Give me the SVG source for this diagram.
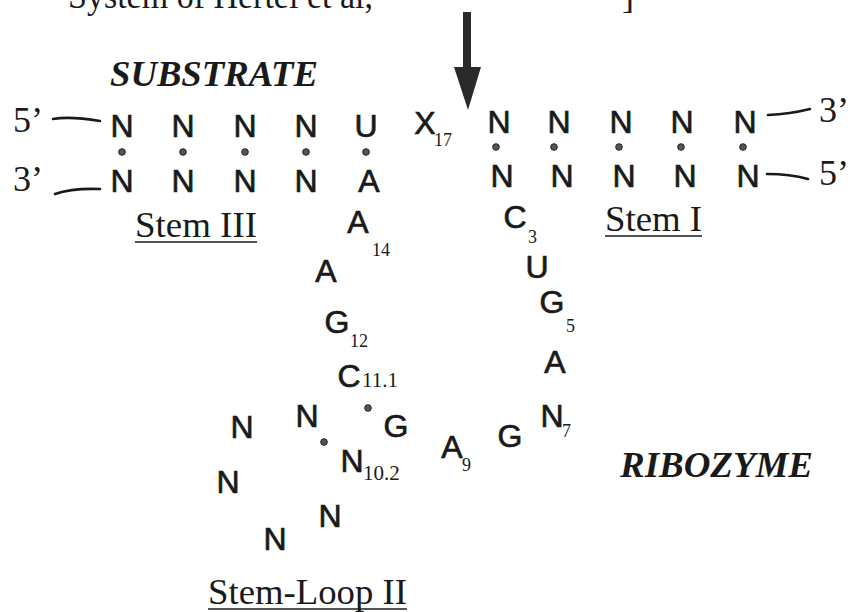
<svg xmlns="http://www.w3.org/2000/svg" width="851" height="612" viewBox="0 0 851 612">
<style>
  .b { font-family: "Liberation Sans Narrow", "Liberation Sans", Arial, sans-serif; font-size: 32px; fill: #1a1a1a; stroke: #1a1a1a; stroke-width: 0.7; text-anchor: middle; }
  .s { font-family: "Liberation Serif", "Times New Roman", serif; font-size: 18px; fill: #1a1a1a; }
  .t { font-family: "Liberation Serif", "Times New Roman", serif; font-size: 36px; fill: #1a1a1a; }
  .ti { font-family: "Liberation Serif", "Times New Roman", serif; font-size: 36px; font-style: italic; font-weight: bold; fill: #1a1a1a; }
  .ln { fill: none; stroke: #1a1a1a; stroke-width: 2.6; stroke-linecap: round; }
  .ul { stroke: #1a1a1a; stroke-width: 1.6; }
  .dot { fill: #555; stroke: #222; stroke-width: 1; }
</style>

<g id="header">
  <text class="t" x="68" y="8" textLength="305" lengthAdjust="spacingAndGlyphs">System of Hertel et al,</text>
  <text class="t" x="622" y="8">]</text>
</g>

<g id="connectors">
  <path d="M463,12 L471,12 L471,67 L481,67 L468,110 L454,67 L463,67 Z" fill="#2a2a2a"/>
  <path class="ln" d="M53,119 Q70,116 100,121"/>
  <path class="ln" d="M55,194 Q72,188 100,189"/>
  <path class="ln" d="M768,115 Q790,114 810,109"/>
  <path class="ln" d="M767,174 Q790,174 808,179"/>
  <circle class="dot" cx="122" cy="152" r="3.3"/>
  <circle class="dot" cx="183" cy="152" r="3.3"/>
  <circle class="dot" cx="245" cy="152" r="3.3"/>
  <circle class="dot" cx="306" cy="152" r="3.3"/>
  <circle class="dot" cx="366" cy="152" r="3.3"/>
  <circle class="dot" cx="496" cy="147" r="3.3"/>
  <circle class="dot" cx="554" cy="147" r="3.3"/>
  <circle class="dot" cx="619" cy="147" r="3.3"/>
  <circle class="dot" cx="681" cy="147" r="3.3"/>
  <circle class="dot" cx="743" cy="147" r="3.3"/>
  <circle class="dot" cx="368" cy="408" r="3.3"/>
  <circle class="dot" cx="324" cy="442" r="3.3"/>
</g>

<g id="substrate">
  <text class="ti" x="110" y="86" textLength="208" lengthAdjust="spacingAndGlyphs">SUBSTRATE</text>
  <text class="t" x="13" y="132">5’</text>
  <text class="b" x="122" y="137">N</text>
  <text class="b" x="183" y="137">N</text>
  <text class="b" x="245" y="137">N</text>
  <text class="b" x="306" y="137">N</text>
  <text class="b" x="366" y="137">U</text>
  <text class="b" x="425" y="134">X</text>
  <text class="s" x="434" y="146">17</text>
  <text class="b" x="499" y="133">N</text>
  <text class="b" x="559" y="133">N</text>
  <text class="b" x="621" y="133">N</text>
  <text class="b" x="682" y="133">N</text>
  <text class="b" x="745" y="133">N</text>
  <text class="t" x="819" y="122">3’</text>
</g>

<g id="stem3">
  <text class="t" x="13" y="191">3’</text>
  <text class="b" x="122" y="192">N</text>
  <text class="b" x="183" y="192">N</text>
  <text class="b" x="245" y="192">N</text>
  <text class="b" x="306" y="192">N</text>
  <text class="b" x="369" y="192">A</text>
  <text class="t" x="135" y="237" textLength="122" lengthAdjust="spacingAndGlyphs">Stem III</text>
  <line class="ul" x1="135" y1="242" x2="257" y2="242"/>
</g>

<g id="stem1">
  <text class="b" x="502" y="187">N</text>
  <text class="b" x="562" y="187">N</text>
  <text class="b" x="624" y="187">N</text>
  <text class="b" x="685" y="187">N</text>
  <text class="b" x="748" y="187">N</text>
  <text class="t" x="819" y="185">5’</text>
  <text class="t" x="605" y="231" textLength="97" lengthAdjust="spacingAndGlyphs">Stem I</text>
  <line class="ul" x1="605" y1="236" x2="702" y2="236"/>
</g>

<g id="core-left">
  <text class="b" x="358" y="233">A</text>
  <text class="s" x="372" y="256">14</text>
  <text class="b" x="326" y="282">A</text>
  <text class="b" x="337" y="333">G</text>
  <text class="s" x="350" y="347">12</text>
  <text class="b" x="349" y="387">C</text>
  <text class="s" x="362" y="387" style="font-size:21px">11.1</text>
</g>

<g id="core-right">
  <text class="b" x="515" y="228">C</text>
  <text class="s" x="528" y="243">3</text>
  <text class="b" x="537" y="278">U</text>
  <text class="b" x="552" y="313">G</text>
  <text class="s" x="566" y="332">5</text>
  <text class="b" x="555" y="373">A</text>
  <text class="b" x="552" y="427">N</text>
  <text class="s" x="562" y="437">7</text>
  <text class="b" x="510" y="447">G</text>
  <text class="b" x="452" y="458">A</text>
  <text class="s" x="462" y="471">9</text>
  <text class="b" x="396" y="437">G</text>
</g>

<g id="stem-loop2">
  <text class="b" x="307" y="427">N</text>
  <text class="b" x="352" y="472">N</text>
  <text class="s" x="363" y="480" style="font-size:21px">10.2</text>
  <text class="b" x="242" y="438">N</text>
  <text class="b" x="228" y="493">N</text>
  <text class="b" x="275" y="550">N</text>
  <text class="b" x="330" y="527">N</text>
  <text class="t" x="208" y="604" textLength="199" lengthAdjust="spacingAndGlyphs">Stem-Loop II</text>
  <line class="ul" x1="208" y1="609" x2="407" y2="609"/>
</g>

<g id="ribozyme">
  <text class="ti" x="620" y="477" textLength="193" lengthAdjust="spacingAndGlyphs">RIBOZYME</text>
</g>
</svg>
